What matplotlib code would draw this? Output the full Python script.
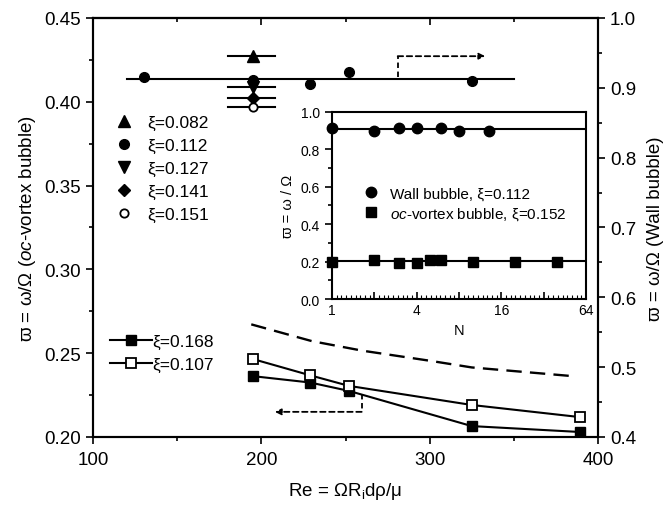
import numpy as np
import matplotlib
matplotlib.use('Agg')
import matplotlib.pyplot as plt
from matplotlib.ticker import MultipleLocator, FormatStrFormatter, FixedLocator, NullFormatter

plt.rcParams['font.family'] = ['Liberation Sans', 'DejaVu Sans']
plt.rcParams['mathtext.fontset'] = 'custom'
plt.rcParams['mathtext.rm'] = 'Liberation Sans'
plt.rcParams['mathtext.it'] = 'Liberation Sans:italic'
plt.rcParams['axes.linewidth'] = 1.5

# wall bubble, xi = 0.112 (main plot, right-side meaning)
re_112 = [130, 195, 229, 252, 325]
w_112 = [0.4148, 0.4132, 0.4106, 0.4177, 0.4123]
mean_112 = 0.4138
mean_112_range = [120, 350]

# single runs at Re ~ 195
re_single = 195
w_single = [0.4272, 0.4087, 0.4025, 0.3967]
single_range = [180, 208]
legend_xi = ['0.082', '0.112', '0.127', '0.141', '0.151']

# oc-vortex bubble
re_low = [195, 229, 252, 325, 389]
w_168 = [0.2363, 0.2325, 0.2275, 0.2065, 0.2030]
w_107 = [0.2465, 0.2368, 0.2305, 0.2191, 0.2119]

# dashed curve
re_dash = [194, 230, 260, 300, 325, 385]
w_dash = [0.2672, 0.2572, 0.2515, 0.2455, 0.2415, 0.2363]

# direction arrows (which axis to read)
arrow_right = [(281, 0.4145), (281, 0.4272), (333, 0.4272)]
arrow_left = [(259.6, 0.2257), (259.6, 0.2150), (208, 0.2150)]

# inset: omega vs N
n_wall = [1, 2, 3, 4, 6, 8, 13]
w_wall = [0.913, 0.897, 0.913, 0.913, 0.913, 0.898, 0.897]
n_oc = [1, 2, 3, 4, 5, 6, 10, 20, 40]
w_oc = [0.200, 0.210, 0.193, 0.193, 0.209, 0.209, 0.200, 0.200, 0.200]
mean_wall = 0.909
mean_oc = 0.2016

fig = plt.figure(figsize=(6.63, 5.06), dpi=100)
ax = fig.add_axes([0.1403, 0.1344, 0.7617, 0.8281])

ms = 7
lw = 1.5

# top group
ax.plot(mean_112_range, [mean_112, mean_112], color='k', lw=lw)
for w in w_single:
    ax.plot(single_range, [w, w], color='k', lw=lw)
h_082, = ax.plot(re_single, w_single[0], '^', color='k', ms=ms + 1)
h_112, = ax.plot(re_112, w_112, 'o', color='k', ms=ms)
h_127, = ax.plot(re_single, w_single[1], 'v', color='k', ms=ms + 1)
h_141, = ax.plot(re_single, w_single[2], 'D', color='k', ms=ms - 1)
h_151, = ax.plot(re_single, w_single[3], 'o', mfc='white', mec='k', mew=1.3, ms=ms - 1)

# bottom group
ax.plot(re_dash, w_dash, color='k', lw=1.7, ls=(0, (6.5, 3.5)))
h_168, = ax.plot(re_low, w_168, '-s', color='k', lw=lw, ms=ms + 0.5)
h_107, = ax.plot(re_low, w_107, '-s', color='k', mfc='white', mew=1.3, lw=lw, ms=ms + 0.5)

for pts in (arrow_right, arrow_left):
    xs = [p[0] for p in pts]
    ys = [p[1] for p in pts]
    ax.plot(xs[:2], ys[:2], color='k', lw=1.3, ls=(0, (3, 2)))
    ax.annotate('', xy=pts[2], xytext=pts[1],
                arrowprops=dict(arrowstyle='-|>', color='k', lw=1.3, ls=(0, (3, 2)),
                                mutation_scale=9, shrinkA=0, shrinkB=0))

ax.set_xlim(100, 400)
ax.set_ylim(0.20, 0.45)
ax.xaxis.set_major_locator(MultipleLocator(100))
ax.xaxis.set_minor_locator(MultipleLocator(50))
ax.yaxis.set_major_locator(MultipleLocator(0.05))
ax.yaxis.set_minor_locator(MultipleLocator(0.025))
ax.yaxis.set_major_formatter(FormatStrFormatter('%.2f'))
ax.tick_params(which='major', direction='out', length=5, width=1.2, labelsize=13.5)
ax.tick_params(which='minor', direction='out', length=3, width=1.2)
ax.tick_params(axis='x', pad=5)

top = ax.secondary_xaxis('top')
top.xaxis.set_major_locator(MultipleLocator(100))
top.xaxis.set_minor_locator(MultipleLocator(50))
top.tick_params(which='major', direction='in', length=5, width=1.2, labeltop=False)
top.tick_params(which='minor', direction='in', length=3, width=1.2)
top.spines['top'].set_linewidth(1.5)

ax.set_xlabel(r'Re = ΩR$_\mathrm{i}$dρ/μ', fontsize=13.5, labelpad=9)
ax.set_ylabel(r'ϖ = ω/Ω ($\mathit{oc}$-vortex bubble)', fontsize=13.5, labelpad=5)

leg1 = ax.legend([h_082, h_112, h_127, h_141, h_151],
                 ['ξ=' + x for x in legend_xi],
                 loc='upper left', bbox_to_anchor=(0.038, 0.785), frameon=False,
                 fontsize=12.5, handletextpad=1.0, labelspacing=0.45, handlelength=0.6,
                 borderaxespad=0)
ax.add_artist(leg1)
ax.legend([h_168, h_107], ['ξ=0.168', 'ξ=0.107'], loc='upper left',
          bbox_to_anchor=(0.02, 0.262), frameon=False, fontsize=12.5,
          handlelength=2.4, handletextpad=0.05, labelspacing=0.45, borderaxespad=0)

ax2 = ax.twinx()
ax2.set_ylim(0.4, 1.0)
ax2.yaxis.set_major_locator(MultipleLocator(0.1))
ax2.yaxis.set_minor_locator(MultipleLocator(0.05))
ax2.yaxis.set_major_formatter(FormatStrFormatter('%.1f'))
ax2.tick_params(which='major', direction='out', length=5, width=1.2, labelsize=13.5)
ax2.tick_params(which='minor', direction='out', length=3, width=1.2)
ax2.set_ylabel('ϖ = ω/Ω (Wall bubble)', fontsize=13.5, labelpad=8)

# inset
axin = fig.add_axes([0.5008, 0.4071, 0.3831, 0.3696])
axin.set_zorder(5)
axin.plot([1, 64], [mean_wall, mean_wall], color='k', lw=lw)
axin.plot([1, 64], [mean_oc, mean_oc], color='k', lw=lw)
hw, = axin.plot(n_wall, w_wall, 'o', color='k', ms=ms + 0.5, clip_on=False)
ho, = axin.plot(n_oc, w_oc, 's', color='k', ms=ms, clip_on=False)
axin.set_xscale('log', base=2)
axin.set_xlim(1, 64)
axin.set_ylim(0, 1.0)
majors = [2 ** k for k in range(7)]
axin.xaxis.set_major_locator(FixedLocator(majors))
axin.set_xticklabels(['1', '', '4', '', '16', '', '64'])
minors = [2 ** (k + j / 9) for k in range(6) for j in range(1, 9)]
axin.xaxis.set_minor_locator(FixedLocator(minors))
axin.xaxis.set_minor_formatter(NullFormatter())
axin.yaxis.set_major_locator(MultipleLocator(0.2))
axin.yaxis.set_minor_locator(MultipleLocator(0.1))
axin.yaxis.set_major_formatter(FormatStrFormatter('%.1f'))
axin.tick_params(axis='x', which='major', direction='in', length=5, width=1.2, labelsize=10, pad=3)
axin.tick_params(axis='x', which='minor', direction='in', length=3, width=0.8)
axin.tick_params(axis='y', which='major', direction='out', length=5, width=1.2, labelsize=10)
axin.tick_params(axis='y', which='minor', direction='out', length=3, width=1.2)
axin.set_xlabel('N', fontsize=10.5, labelpad=4)
axin.set_ylabel('ϖ = ω / Ω', fontsize=10.5, labelpad=4)
axin.legend([hw, ho], ['Wall bubble, ξ=0.112', r'$\mathit{oc}$-vortex bubble, ξ=0.152'],
            loc='upper left', bbox_to_anchor=(0.1, 0.635), frameon=False, fontsize=11,
            handletextpad=0.7, labelspacing=0.3, handlelength=1.0, borderaxespad=0)

fig.savefig('out.png', dpi=100)
